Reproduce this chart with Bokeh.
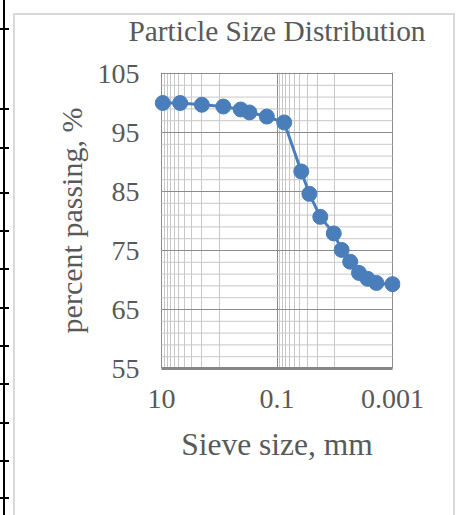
from bokeh.plotting import figure
from bokeh.models import Range1d, FixedTicker, CustomJSTickFormatter
from bokeh.embed import file_html
from bokeh.resources import INLINE

# Data
sieve_mm = [9.5, 4.75, 2.0, 0.85, 0.425, 0.3, 0.15, 0.075, 0.038, 0.0275,
            0.0178, 0.0104, 0.0076, 0.0054, 0.0038, 0.0027, 0.0019, 0.001]
passing = [100.0, 100.0, 99.7, 99.4, 98.9, 98.4, 97.7, 96.7, 88.4, 84.6,
           80.7, 77.9, 75.1, 73.1, 71.2, 70.2, 69.5, 69.3]

x_min, x_max = 0.001, 10
y_min, y_max = 55, 105
x_ticks = [10, 0.1, 0.001]
x_minor_ticks = [1, 2, 3, 4, 5, 6, 7, 8, 9,
                 0.01, 0.02, 0.03, 0.04, 0.05, 0.06, 0.07, 0.08, 0.09]
y_ticks = [55, 65, 75, 85, 95, 105]
y_minor_ticks = list(range(57, 105, 2))

title_text = "Particle Size Distribution"
x_label = "Sieve size, mm"
y_label = "percent passing, %"

FONT = "Liberation Serif"
TXT = "#595959"
MAJOR_GRID = "#8c8c8c"
MINOR_GRID = "#c8c8c8"

# small padding so end markers are not clipped (8 px at 57.75 px/decade)
pad = 10 ** (8 / 57.75)
SHIFT = 10  # the canvas is pulled up by this many pixels

# page decoration (document table edge at left, light chart-area border),
# painted as CSS backgrounds behind the transparent canvas border
layers = []
def bar(x, y, w, h, color):
    layers.append((f"linear-gradient({color},{color})", f"{w}px {h}px", f"{x}px {y + SHIFT}px"))

bar(3, 0, 2, 515, "#000")
for ty in [28, 108, 147, 192, 230, 268, 307, 345, 383, 422, 460, 497]:
    bar(0, ty, 9, 2, "#000")
bar(13, 13, 2, 502, "#d9d9d9")
bar(13, 13, 442, 2, "#d9d9d9")
bar(453, 13, 2, 502, "#d9d9d9")
page_styles = {
    "background-image": ",".join(l[0] for l in layers),
    "background-size": ",".join(l[1] for l in layers),
    "background-position": ",".join(l[2] for l in layers),
    "background-repeat": "no-repeat",
    "margin-top": f"-{SHIFT}px",
}

p = figure(width=458, height=515 + SHIFT, x_axis_type="log",
           x_range=Range1d(x_max * pad, x_min / pad),
           y_range=Range1d(y_min, y_max + 0.17),
           output_backend="svg", toolbar_location=None,
           min_border_left=153, min_border_right=58,
           min_border_top=10, min_border_bottom=147,
           styles=page_styles)

p.title.text = title_text
p.title.align = "center"
p.title.vertical_align = "top"
p.title.text_font = FONT
p.title.text_font_size = "29.4px"
p.title.text_font_style = "normal"
p.title.text_color = TXT
p.title.standoff = 48

p.outline_line_color = None
p.background_fill_color = "white"
p.border_fill_color = None

# x axis
p.xaxis.ticker = FixedTicker(ticks=x_ticks, minor_ticks=x_minor_ticks)
p.xaxis.formatter = CustomJSTickFormatter(code="return tick.toString()")
p.xaxis.bounds = (x_min, x_max)
p.xaxis.axis_label = x_label
p.xaxis.axis_label_text_font = FONT
p.xaxis.axis_label_text_font_size = "31.5px"
p.xaxis.axis_label_text_font_style = "normal"
p.xaxis.axis_label_text_color = TXT
p.xaxis.axis_label_standoff = 16
p.xaxis.major_label_text_font = FONT
p.xaxis.major_label_text_font_size = "28px"
p.xaxis.major_label_text_color = TXT
p.xaxis.major_label_standoff = 15
p.xaxis.major_tick_line_color = None
p.xaxis.minor_tick_line_color = None
p.xaxis.axis_line_color = "#868686"
p.xaxis.axis_line_width = 3

# y axis
p.yaxis.ticker = FixedTicker(ticks=y_ticks, minor_ticks=y_minor_ticks)
p.yaxis.axis_label = y_label
p.yaxis.axis_label_text_font = FONT
p.yaxis.axis_label_text_font_size = "30px"
p.yaxis.axis_label_text_font_style = "normal"
p.yaxis.axis_label_text_color = TXT
p.yaxis.axis_label_standoff = 7
p.yaxis.major_label_text_font = FONT
p.yaxis.major_label_text_font_size = "28px"
p.yaxis.major_label_text_color = TXT
p.yaxis.major_label_standoff = 8
p.yaxis.major_tick_line_color = None
p.yaxis.minor_tick_line_color = None
p.yaxis.axis_line_color = None

# vertical grid lines (span exactly the y range)
p.xgrid.bounds = (x_min, x_max)
p.xgrid.grid_line_color = MAJOR_GRID
p.xgrid.grid_line_width = 1
p.xgrid.minor_grid_line_color = MINOR_GRID
p.xgrid.minor_grid_line_width = 1

# horizontal grid lines limited to the x extent of the data axis
p.ygrid.visible = False
p.segment(x0=[x_max] * len(y_minor_ticks), x1=[x_min] * len(y_minor_ticks),
          y0=y_minor_ticks, y1=y_minor_ticks, line_color=MINOR_GRID, line_width=1)
p.segment(x0=[x_max] * len(y_ticks), x1=[x_min] * len(y_ticks),
          y0=y_ticks, y1=y_ticks, line_color=MAJOR_GRID, line_width=1)

p.line(sieve_mm, passing, line_color="#4a7ebb", line_width=3)
p.scatter(sieve_mm, passing, size=15, fill_color="#4a7ebb", line_color="#4a7ebb")

open("out.html", "w").write(file_html(p, INLINE))
